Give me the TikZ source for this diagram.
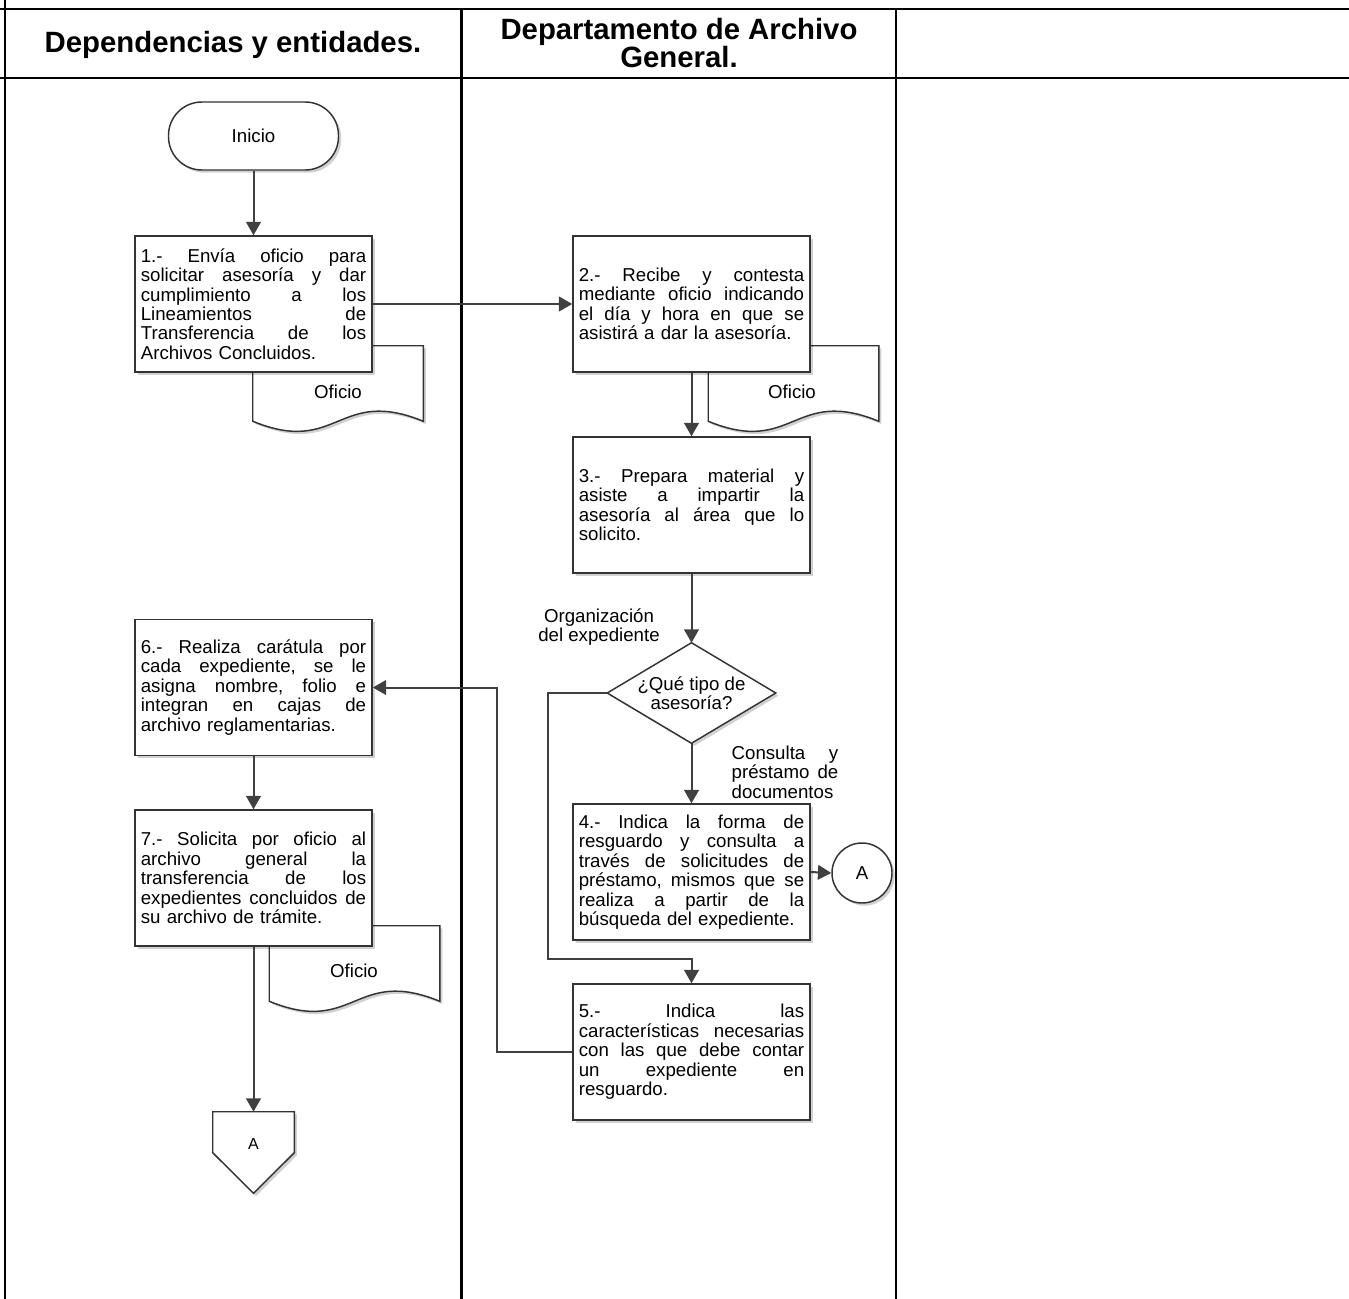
\documentclass[tikz,border=0pt]{standalone}
\usepackage{fontspec}
\setmainfont{Liberation Sans}
\usetikzlibrary{arrows.meta,shadows,calc}
\definecolor{lineg}{HTML}{404040}
\definecolor{boxg}{HTML}{333333}
\newcommand\jl[2][169pt]{\leavevmode\hbox to #1{\frenchspacing\spaceskip=.278em plus 1fil\relax\xspaceskip=\spaceskip #2}}
\begin{document}
\begin{tikzpicture}[x=0.75pt,y=-0.75pt,
  tbl/.style={line width=2.2pt,black},
  conn/.style={draw=lineg,line width=1.5pt,-{Triangle[length=10pt,width=11pt]}},
  shad/.style={drop shadow={shadow xshift=2pt,shadow yshift=-2pt,fill=black,opacity=0.18}},
  procbox/.style={draw=boxg,line width=1.1pt,fill=white,shad,minimum width=177.75pt,
    minimum height=102pt,text width=169pt,inner xsep=4.4pt,align=left,
    font=\fontsize{14}{14.6}\selectfont},
  docarea/.style={minimum width=127.5pt,minimum height=56.25pt,inner sep=0pt},
  docshape/.style={draw=boxg,line width=1.1pt,fill=white,shad},
  lbl/.style={font=\fontsize{14}{14.6}\selectfont,inner sep=0pt},
  hdr/.style={font=\fontsize{22}{19}\selectfont\bfseries,align=center,inner sep=0pt}
]
\useasboundingbox (0,0) rectangle (1349,1299);
% table
\draw[tbl] (0,9) -- (1349,9);
\draw[tbl] (0,78) -- (1349,78);
\draw[tbl] (5,0) -- (5,1299);
\draw[tbl] (461.5,9) -- (461.5,1299);
\draw[tbl] (896,9) -- (896,1299);
\node[hdr] (h1) at (233,45) {Dependencias y entidades.};
\node[hdr] (h2) at (679,43) {Departamento de Archivo\\General.};

% documents (behind boxes)
\node[docarea] (doc1) at (338,383.5) {};
\node[docarea] (doc2) at (793.5,383.5) {};
\node[docarea] (doc7) at (354.5,963.5) {};
\foreach \d in {doc1,doc2,doc7}{
  \draw[docshape] (\d.north west) -- (\d.north east) -- (\d.south east)
    .. controls ($(\d.south)+(0,-35)$) and ($(\d.south)+(0,35)$) .. (\d.south west) -- cycle;
}
\node[lbl] (t1) at (338,392) {Oficio};
\node[lbl] (t2) at (792,392) {Oficio};
\node[lbl] (t7) at (354,971) {Oficio};

% start
\node[draw=boxg,line width=1.1pt,fill=white,shad,rounded corners=25pt,minimum width=127.5pt,
  minimum height=51pt,font=\fontsize{14}{14.6}\selectfont] (ini) at (253.5,136) {Inicio};

% process boxes
\node[procbox] (b1) at (253.5,304) {\jl{1.- Envía oficio para}\\\jl{solicitar asesoría y dar}\\\jl{cumplimiento a los}\\\jl{Lineamientos de}\\\jl{Transferencia de los}\\Archivos Concluidos.};
\node[procbox] (b2) at (691.5,304) {\jl{2.- Recibe y contesta}\\\jl{mediante oficio indicando}\\\jl{el día y hora en que se}\\asistirá a dar la asesoría.};
\node[procbox] (b3) at (691.5,505) {\jl{3.- Prepara material y}\\\jl{asiste a impartir la}\\\jl{asesoría al área que lo}\\solicito.};
\node[procbox] (b4) at (691.5,872) {\jl{4.- Indica la forma de}\\\jl{resguardo y consulta a}\\\jl{través de solicitudes de}\\\jl{préstamo, mismos que se}\\\jl{realiza a partir de la}\\búsqueda del expediente.};
\node[procbox] (b5) at (691.5,1052) {\jl{5.- Indica las}\\\jl{características necesarias}\\\jl{con las que debe contar}\\\jl{un expediente en}\\resguardo.};
\node[procbox] (b6) at (253.5,687.5) {\jl{6.- Realiza carátula por}\\\jl{cada expediente, se le}\\\jl{asigna nombre, folio e}\\\jl{integran en cajas de}\\archivo reglamentarias.};
\node[procbox] (b7) at (253.5,878) {\jl{7.- Solicita por oficio al}\\\jl{archivo general la}\\\jl{transferencia de los}\\\jl{expedientes concluidos de}\\su archivo de trámite.};

% decision
\node[minimum width=126pt,minimum height=75pt,inner sep=0pt] (dec) at (691.5,693) {};
\draw[draw=boxg,line width=1.1pt,fill=white,shad] (dec.north) -- (dec.east) -- (dec.south) -- (dec.west) -- cycle;
\node[lbl,align=center] (dect) at (691.5,693) {¿Qué tipo de\\asesoría?};

% connector circle
\node[circle,draw=boxg,line width=1.1pt,fill=white,shad,minimum size=45pt,inner sep=0pt,
  font=\fontsize{14}{14.6}\selectfont] (ca) at (862,873) {A};

% off-page connector
\node[minimum width=60.75pt,minimum height=60.75pt,inner sep=0pt] (off) at (253.5,1152.5) {};
\draw[draw=boxg,line width=1.1pt,fill=white,shad] (off.north west) -- (off.north east)
  -- ($(off.north east)+(0,41)$) -- (off.south) -- ($(off.north west)+(0,41)$) -- cycle;
\node[font=\fontsize{12}{12}\selectfont,inner sep=0pt] (offt) at (253.5,1144) {A};

% labels
\node[lbl,align=center] (lorg) at (599,627) {Organización\\del expediente};
\node[lbl,text width=80pt,align=left] (lcon) at (785,772) {\jl[80pt]{Consulta y}\\\jl[80pt]{préstamo de}\\documentos};

% connectors
\draw[conn] (ini.south) -- (b1.north);
\draw[conn] (b1.east) -- (b2.west);
\draw[conn] (b2.south) -- (b3.north);
\draw[conn] (b3.south) -- (dec.north);
\draw[conn] (dec.south) -- (b4.north);
\draw[conn] (b4.east) -- (ca.west);
\draw[conn] (dec.west) -- (548,693) -- (548,959) -- (691.5,959) -- (b5.north);
\draw[conn] (b5.west) -- (497,1052) -- (497,687.5) -- (b6.east);
\draw[conn] (b6.south) -- (b7.north);
\draw[conn] (b7.south) -- (off.north);
\end{tikzpicture}
\end{document}
